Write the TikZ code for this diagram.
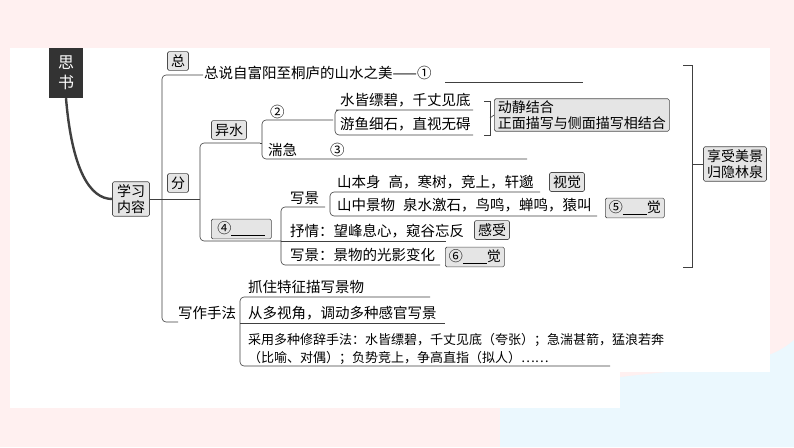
\documentclass[tikz,border=0pt]{standalone}
\usepackage{fontspec}
\setmainfont{Noto Sans CJK SC}
\begin{document}
\begin{tikzpicture}[x=1pt,y=-1pt,
  txt/.style={anchor=west,inner sep=0pt,font=\fontsize{14.5}{16}\selectfont},
  gbox/.style={draw=black!70,fill=black!10,rounded corners=1.5pt,inner xsep=3.5pt,inner ysep=3pt,font=\fontsize{14}{15.5}\selectfont,line width=0.6pt},
  ln/.style={draw=black!75,line width=0.6pt},
  rc/.style={ln,rounded corners=4pt}]
\useasboundingbox (0,0) rectangle (794,447);
\fill[red!6] (0,0) rectangle (794,447);
\fill[cyan!8] (500,400) .. controls (650,360) and (750,380) .. (794,340) -- (794,447) -- (500,447) -- cycle;
\fill[white] (10,48) rectangle (770,372);
\fill[white] (10,372) rectangle (620,408);
% title
\node[fill=black!80,text=white,minimum width=34pt,minimum height=50pt,inner sep=1pt,align=center,font=\fontsize{16}{20}\selectfont] (t) at (66,73) {思\\书};
\node[gbox,align=center,minimum width=37pt] (xx) at (131,199) {学习\\内容};
\draw[black!75,line width=2.4pt] (t.south) .. controls (72,170) and (90,199) .. (xx.west);
% main spine
\coordinate (s) at (162,199);
\draw[ln] (xx.east) -- (s);
\draw[rc] (203,75) -- (162,75) -- (162,322) -- (178,322);
\node[gbox] (zong) at (178,61) {总};
\node[gbox] (fen) at (178,183) {分};
\node[txt] (z1) at (204,73) {总说自富阳至桐庐的山水之美——①};
\draw[ln] (445,82) -- (583,82);
% fen branch
\draw[rc] (260,143) -- (200,143) -- (200,241) -- (281,241);
\draw[ln] (s) -- (200,199);
\node[gbox] (ys) at (229,130) {异水};
\node[gbox,minimum width=60pt,anchor=west] (q4) at (211,229) {④\rule[-2pt]{34pt}{0.5pt}};
% yishui
\draw[rc] (333,120) -- (262,120) -- (262,159) -- (527,159);
\draw[ln] (260,143) -- (262,143);
\node[txt] (n2) at (270,112) {②};
\node[txt] (tj) at (268,150) {湍急};
\node[txt] (n3) at (330,150) {③};
\draw[rc] (473,110) -- (340,110) -- (335,110) -- (335,135) -- (473,135);
\node[txt] (a1) at (340,100) {水皆缥碧，千丈见底};
\node[txt] (a2) at (340,124) {游鱼细石，直视无碍};
\draw[ln] (484,101) -- (490,101) -- (490,135) -- (484,135);
\node[gbox,align=left,anchor=west,inner ysep=2pt] (dj) at (494,115) {动静结合\\正面描写与侧面描写相结合};
\draw[ln] (490,118) -- (dj.west);
% ④ branch
\draw[rc] (325,207) -- (281,207) -- (281,265) -- (440,265);
\node[txt] (xj1) at (290,198) {写景};
\draw[rc] (540,192) -- (330,192) -- (330,216) -- (597,216);
\node[txt] (b1) at (337,182) {山本身\hspace{8pt}高，寒树，竞上，轩邈};
\node[txt] (b2) at (337,205) {山中景物\hspace{8pt}泉水激石，鸟鸣，蝉鸣，猿叫};
\node[gbox] (sj) at (567,182) {视觉};
\node[gbox,anchor=west] (q5) at (605,208) {⑤\rule[-2pt]{24pt}{0.5pt}觉};
\node[txt] (sq) at (290,231) {抒情：望峰息心，窥谷忘反};
\draw[ln] (281,241) -- (446,241);
\node[gbox] (gs) at (492,230) {感受};
\node[txt] (xj2) at (290,255) {写景：景物的光影变化};
\node[gbox,anchor=west] (q6) at (445,257) {⑥\rule[-2pt]{24pt}{0.5pt}觉};
% right bracket
\draw[ln] (683,65) -- (692,65) -- (692,267) -- (683,267);
\node[gbox,align=center] (xs) at (735,164) {享受美景\\归隐林泉};
\draw[ln] (692,164) -- (xs.west);
% writing
\node[txt] (xz) at (178,313) {写作手法};
\draw[rc] (430,297) -- (240,297) -- (240,366) -- (610,366);
\draw[ln] (240,323) -- (445,323);
\node[txt] (c1) at (248,287) {抓住特征描写景物};
\node[txt] (c2) at (248,313) {从多视角，调动多种感官写景};
\node[txt,align=left,font=\fontsize{13}{18}\selectfont] (c3) at (248,349) {采用多种修辞手法：水皆缥碧，千丈见底（夸张）；急湍甚箭，猛浪若奔\\（比喻、对偶）；负势竞上，争高直指（拟人）……};
\end{tikzpicture}
\end{document}
